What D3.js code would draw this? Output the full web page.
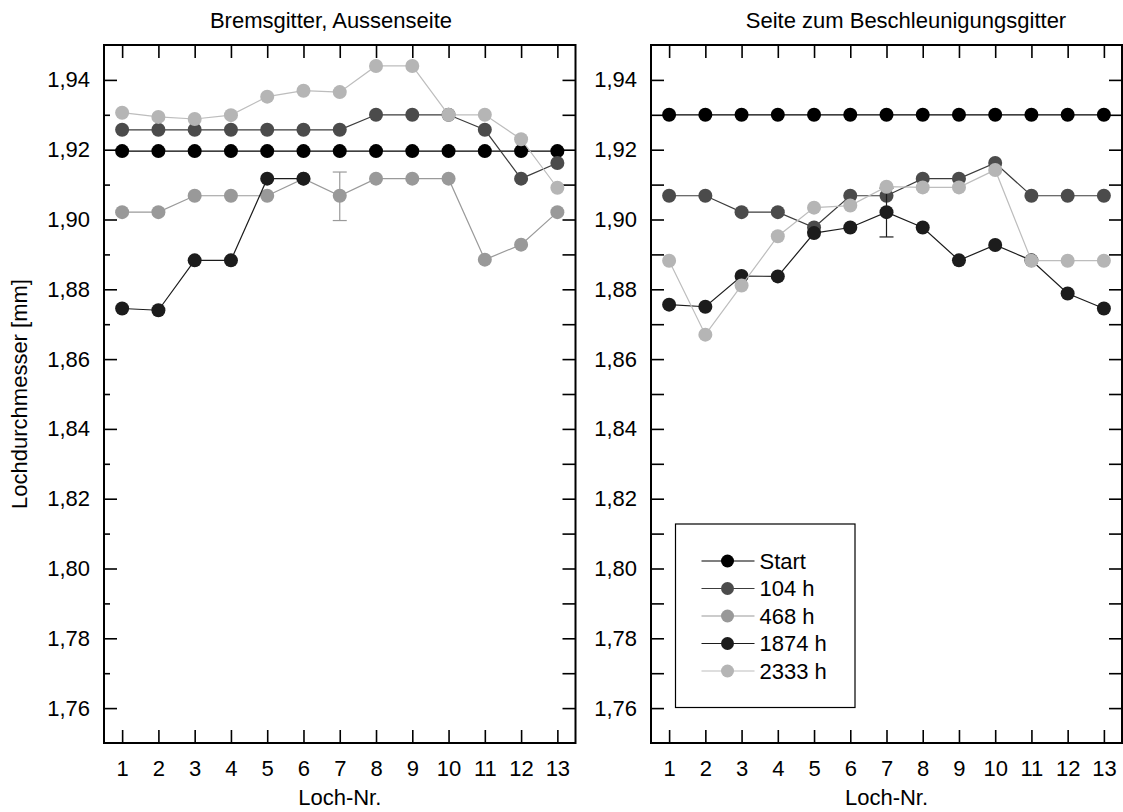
<!DOCTYPE html>
<html>
<head>
<meta charset="utf-8">
<script src="https://cdn.jsdelivr.net/npm/d3@7/dist/d3.min.js"></script>
<style>
  body { margin: 0; background: #fff; }
  svg { display: block; font-family: "Liberation Sans", Arial, Helvetica, sans-serif; }
</style>
</head>
<body>
<svg id="chart" width="1123" height="812"></svg>
<script>
// hole numbers on the x axis
const LOCH = [1, 2, 3, 4, 5, 6, 7, 8, 9, 10, 11, 12, 13];
const SERIES = ["Start", "104 h", "468 h", "1874 h", "2333 h"];

const Y_MAJOR = [1.76, 1.78, 1.80, 1.82, 1.84, 1.86, 1.88, 1.90, 1.92, 1.94];
const Y_MINOR = [1.77, 1.79, 1.81, 1.83, 1.85, 1.87, 1.89, 1.91, 1.93];

// left panel: Bremsgitter, Aussenseite
const startL = [1.9196, 1.9196, 1.9196, 1.9196, 1.9196, 1.9196, 1.9196, 1.9196, 1.9196, 1.9196, 1.9196, 1.9196, 1.9196];
const h104L  = [1.9257, 1.9257, 1.9257, 1.9257, 1.9257, 1.9257, 1.9257, 1.9300, 1.9300, 1.9300, 1.9257, 1.9117, 1.9162];
const h468L  = [1.9021, 1.9021, 1.9068, 1.9068, 1.9068, 1.9117, 1.9068, 1.9117, 1.9117, 1.9117, 1.8885, 1.8928, 1.9021];
const h1874L = [1.8745, 1.8740, 1.8883, 1.8883, 1.9117, 1.9117, null, null, null, null, null, null, null];
const h2333L = [1.9306, 1.9294, 1.9288, 1.9299, 1.9352, 1.9369, 1.9365, 1.9440, 1.9440, 1.9300, 1.9300, 1.9230, 1.9091];

// right panel: Seite zum Beschleunigungsgitter
const startR = [1.9300, 1.9300, 1.9300, 1.9300, 1.9300, 1.9300, 1.9300, 1.9300, 1.9300, 1.9300, 1.9300, 1.9300, 1.9300];
const h104R  = [1.9068, 1.9068, 1.9021, 1.9021, 1.8977, 1.9068, 1.9068, 1.9117, 1.9117, 1.9162, 1.9068, 1.9068, 1.9068];
const h468R  = [null, null, null, null, null, null, null, null, null, null, null, null, null];
const h1874R = [1.8756, 1.8750, 1.8838, 1.8837, 1.8961, 1.8977, 1.9021, 1.8977, 1.8883, 1.8927, 1.8883, 1.8788, 1.8745];
const h2333R = [1.8882, 1.8670, 1.8811, 1.8952, 1.9034, 1.9040, 1.9094, 1.9092, 1.9092, 1.9142, 1.8882, 1.8882, 1.8882];

// one error bar per panel: [series index, hole, low, high]
const ERR_L = [2, 7, 1.8997, 1.9136];
const ERR_R = [3, 7, 1.8950, 1.9090];

const FILL  = ["#000000", "#4b4b4b", "#999999", "#1c1c1c", "#b5b5b5"];
const LINE  = ["#000000", "#3c3c3c", "#9a9a9a", "#1c1c1c", "#bdbdbd"];

const FS = 22;
const TOP = 45, BOTTOM = 743;

const fmt = d3.formatLocale({ decimal: ",", thousands: ".", grouping: [3], currency: ["", ""] }).format(".2f");

const svg = d3.select("#chart");

const panels = [
  { title: "Bremsgitter, Aussenseite", titleX: 331, left: 104, right: 575.5,
    data: [startL, h104L, h468L, h1874L, h2333L], err: ERR_L, yLabel: true, minorShort: true, legend: false },
  { title: "Seite zum Beschleunigungsgitter", titleX: 906, left: 651, right: 1122,
    data: [startR, h104R, h468R, h1874R, h2333R], err: ERR_R, yLabel: false, minorShort: false, legend: true },
];

function styleAxis(g) {
  g.select(".domain").remove();
  g.selectAll(".tick line").attr("stroke", "#000").attr("stroke-width", 1.6);
  g.selectAll("text").attr("font-size", FS).attr("font-family", null).attr("fill", "#000");
  g.attr("font-family", null).attr("font-size", null);
}

function drawPanel(p) {
  const x = d3.scaleLinear().domain([0.5, 13.5]).range([p.left, p.right]);
  const y = d3.scaleLinear().domain([1.75, 1.95]).range([BOTTOM, TOP]);
  const g = svg.append("g");

  // axes, all ticks pointing inward
  g.append("g").attr("transform", "translate(0," + BOTTOM + ")")
    .call(d3.axisBottom(x).tickValues(LOCH).tickSize(-13).tickSizeOuter(0).tickPadding(17).tickFormat(d3.format("d")))
    .call(styleAxis);
  g.append("g").attr("transform", "translate(0," + TOP + ")")
    .call(d3.axisTop(x).tickValues(LOCH).tickSize(-13).tickSizeOuter(0).tickFormat(""))
    .call(styleAxis);
  g.append("g").attr("transform", "translate(" + p.left + ",0)")
    .call(d3.axisLeft(y).tickValues(Y_MAJOR).tickSize(-13).tickSizeOuter(0).tickPadding(14).tickFormat(fmt))
    .call(styleAxis);
  g.append("g").attr("transform", "translate(" + p.left + ",0)")
    .call(d3.axisLeft(y).tickValues(Y_MINOR).tickSize(p.minorShort ? -6 : -13).tickSizeOuter(0).tickFormat(""))
    .call(styleAxis);
  g.append("g").attr("transform", "translate(" + p.right + ",0)")
    .call(d3.axisRight(y).tickValues(Y_MAJOR.concat(Y_MINOR)).tickSize(-13).tickSizeOuter(0).tickFormat(""))
    .call(styleAxis);

  g.append("rect")
    .attr("x", p.left).attr("y", TOP)
    .attr("width", p.right - p.left).attr("height", BOTTOM - TOP)
    .attr("fill", "none").attr("stroke", "#000").attr("stroke-width", 2);

  // titles
  svg.append("text")
    .attr("x", p.titleX).attr("y", 28)
    .attr("text-anchor", "middle").attr("font-size", FS)
    .text(p.title);
  svg.append("text")
    .attr("x", (p.left + p.right) / 2).attr("y", 805)
    .attr("text-anchor", "middle").attr("font-size", FS)
    .text("Loch-Nr.");
  if (p.yLabel) {
    svg.append("text")
      .attr("transform", "translate(27," + (TOP + BOTTOM) / 2 + ") rotate(-90)")
      .attr("text-anchor", "middle").attr("font-size", FS)
      .text("Lochdurchmesser [mm]");
  }

  const line = d3.line()
    .defined(d => d != null)
    .x((d, i) => x(LOCH[i]))
    .y(d => y(d));

  p.data.forEach((vals, s) => {
    const sg = g.append("g");
    sg.append("path")
      .attr("d", line(vals))
      .attr("fill", "none")
      .attr("stroke", LINE[s])
      .attr("stroke-width", 1.2);

    if (p.err[0] === s) {
      const ex = x(p.err[1]);
      const eg = sg.append("g").attr("stroke", LINE[s]).attr("stroke-width", 1.2);
      eg.append("line").attr("x1", ex).attr("x2", ex).attr("y1", y(p.err[2])).attr("y2", y(p.err[3]));
      eg.append("line").attr("x1", ex - 7).attr("x2", ex + 7).attr("y1", y(p.err[2])).attr("y2", y(p.err[2]));
      eg.append("line").attr("x1", ex - 7).attr("x2", ex + 7).attr("y1", y(p.err[3])).attr("y2", y(p.err[3]));
    }

    sg.selectAll("circle")
      .data(vals.map((v, i) => ({ n: LOCH[i], v: v })).filter(d => d.v != null))
      .join("circle")
      .attr("cx", d => x(d.n))
      .attr("cy", d => y(d.v))
      .attr("r", 7)
      .attr("fill", FILL[s]);
  });

  if (p.legend) drawLegend(g);
}

function drawLegend(g) {
  const lx = 675.5, ly = 524, lw = 179.5, lh = 183.5;
  const lg = g.append("g");
  lg.append("rect")
    .attr("x", lx).attr("y", ly).attr("width", lw).attr("height", lh)
    .attr("fill", "#fff").attr("stroke", "#000").attr("stroke-width", 1.2);

  const row = lg.selectAll("g.item").data(SERIES).join("g")
    .attr("class", "item")
    .attr("transform", (d, i) => "translate(" + lx + "," + (ly + 37 + i * 27.5) + ")");
  row.append("line")
    .attr("x1", 26).attr("x2", 79).attr("y1", 0).attr("y2", 0)
    .attr("stroke", (d, i) => LINE[i]).attr("stroke-width", 1.2);
  row.append("circle")
    .attr("cx", 52).attr("cy", 0).attr("r", 6.5)
    .attr("fill", (d, i) => FILL[i]);
  row.append("text")
    .attr("x", 84).attr("y", 0).attr("dy", "0.36em")
    .attr("font-size", FS)
    .text(d => d);
}

panels.forEach(drawPanel);
</script>
</body>
</html>
